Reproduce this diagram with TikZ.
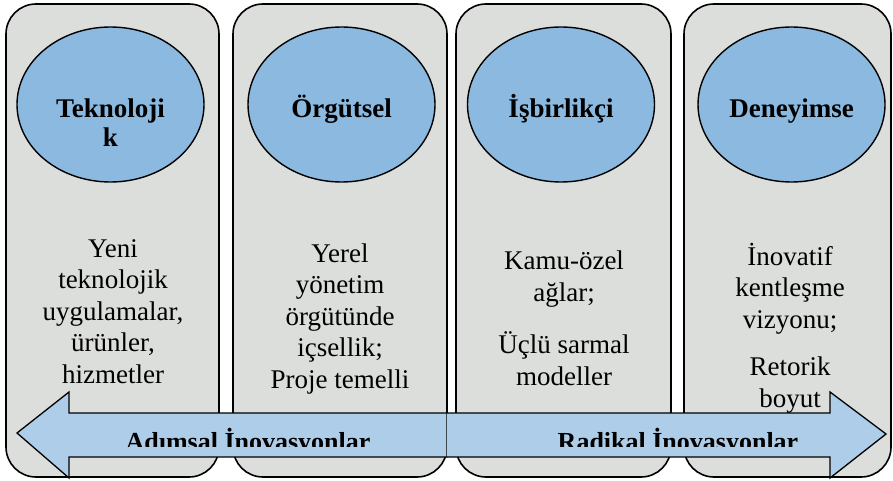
\documentclass[tikz,border=0pt]{standalone}
\usepackage{fontspec}
\setmainfont{Liberation Serif}
\definecolor{panelgray}{HTML}{DCDEDB}
\definecolor{ovalblue}{HTML}{8BB9DF}
\definecolor{arrowblue}{HTML}{ADCDE8}
\usetikzlibrary{shapes.geometric}

\begin{document}
\begin{tikzpicture}[
  x=1pt, y=1pt,
  panel/.style={draw=black, line width=1.6pt, rounded corners=30pt, fill=panelgray},
  oval/.style={ellipse, draw=black, line width=1.4pt, fill=ovalblue, minimum width=187pt, minimum height=155pt, inner sep=0pt},
  head/.style={font=\fontsize{27}{29}\selectfont\bfseries, align=center, anchor=base, inner sep=0pt},
  txt/.style={font=\fontsize{27}{31.5}\selectfont, align=center, anchor=base, inner sep=0pt},
  blk/.style={draw=black, line width=1.3pt, fill=arrowblue, line join=miter},
  dir/.style={font=\fontsize{26}{28}\selectfont\bfseries, anchor=base, inner sep=0pt},
]
  \useasboundingbox (0,0) rectangle (893,480);
  % four columns
  \draw[panel] (6,3) rectangle (219,476);
  \draw[panel] (233,3) rectangle (447,476);
  \draw[panel] (456,3) rectangle (671,476);
  \draw[panel] (684,3) rectangle (891,476);
  % ovals and their titles (base = last line)
  \node[oval] (tekno) at (110.5,375.5) {};
  \node[oval] (orgut) at (341.5,375.5) {};
  \node[oval] (isbir) at (561,375.5) {};
  \node[oval] (deney) at (791.5,375.5) {};
  \node[head] (teknoT) at (110.5,333) {Teknoloji\\k};
  \node[head] (orgutT) at (341.5,362) {Örgütsel};
  \node[head] (isbirT) at (561,362) {İşbirlikçi};
  \node[head] (deneyT) at (791.5,362) {Deneyimse};
  % column texts
  \node[txt] (teknoB) at (113,97) {Yeni\\teknolojik\\uygulamalar,\\ürünler,\\hizmetler};
  \node[txt] (orgutB) at (340,92) {Yerel\\yönetim\\örgütünde\\içsellik;\\Proje temelli};
  \node[txt] (isbirB) at (564,95) {Kamu-özel\\ağlar;\\[21pt]Üçlü sarmal\\modeller};
  \node[txt] (deneyB) at (790,73) {İnovatif\\kentleşme\\vizyonu;\\[16pt]Retorik\\boyut};
  % block arrows
  \draw[blk] (447,67) -- (69,67) -- (69,88) -- (17,47) -- (69,2) -- (69,23) -- (447,23) -- cycle;
  \draw[blk] (447,67) -- (830,67) -- (830,88) -- (886,46) -- (830,2) -- (830,23) -- (447,23);
  \begin{scope}
    \clip (0,34) rectangle (893,67);
    \node[dir] (adim) at (248,30) {Adımsal İnovasyonlar};
    \node[dir] (radik) at (678,30) {Radikal İnovasyonlar};
  \end{scope}
\end{tikzpicture}
\end{document}
